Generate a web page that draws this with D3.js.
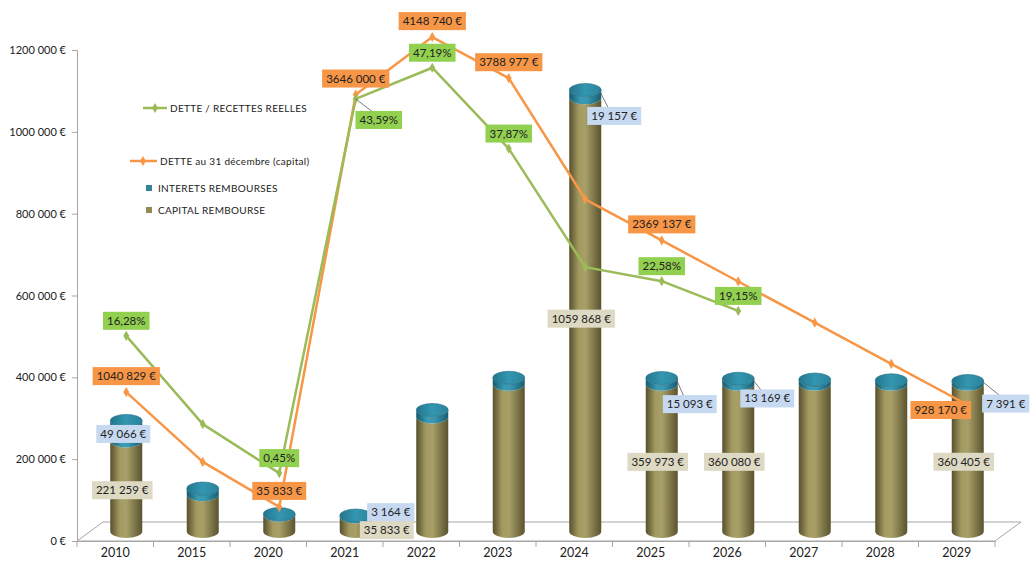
<!DOCTYPE html>
<html><head><meta charset="utf-8">
<script src="https://cdn.jsdelivr.net/npm/d3@7"></script>
<style>
html,body{margin:0;padding:0;background:#fff;}
svg{display:block;font-family:Lato, "Noto Sans", sans-serif;}
</style></head>
<body><svg id="chart" width="1032" height="563"></svg>
<script>
// ---------- DATA ----------
const categories = ["2010","2015","2020","2021","2022","2023","2024","2025","2026","2027","2028","2029"];
const capitalRembourse = [221259, 90000, 40000, 35833, 280000, 359763, 1059868, 359973, 360080, 360190, 360292, 360405];
const interetsRembourses = [49066, 15000, 2500, 3164, 17000, 16000, 19157, 15093, 13169, 11200, 9300, 7391];
const detteCapital = [1040829, 430000, 35833, 3646000, 4148740, 3788977, 2729110, 2369137, 2009057, 1648867, 1288575, 928170];
const detteRecettes = [16.28, 6.1, 0.45, 43.59, 47.19, 37.87, 24.2, 22.58, 19.15, null, null, null];
const yTicks = [0, 200000, 400000, 600000, 800000, 1000000, 1200000];
const yTickLabels = ["0 €", "200 000 €", "400 000 €", "600 000 €", "800 000 €", "1000 000 €", "1200 000 €"];
const detteLabels = ["1040 829 €", "", "35 833 €", "3646 000 €", "4148 740 €", "3788 977 €", "", "2369 137 €", "", "", "", "928 170 €"];
const ratioLabels = ["16,28%", "", "0,45%", "43,59%", "47,19%", "37,87%", "", "22,58%", "19,15%", "", "", ""];
const interetsLabels = ["49 066 €", "", "", "3 164 €", "", "", "19 157 €", "15 093 €", "13 169 €", "", "", "7 391 €"];
const capitalLabels = ["221 259 €", "", "", "35 833 €", "", "", "1059 868 €", "359 973 €", "360 080 €", "", "", "360 405 €"];
const legendNames = ["DETTE / RECETTES REELLES", "DETTE au 31 décembre (capital)", "INTERETS REMBOURSES", "CAPITAL REMBOURSE"];

// ---------- SETUP ----------
const svg = d3.select("#chart");
const C = {orange:"#F79646", green:"#9BBB59", teal:"#31859C", olive:"#948A54",
           lOrange:"#F79646", lGreen:"#92D050", lBlue:"#C6D9F1", lBeige:"#DDD9C3", axis:"#A6A6A6"};

const x = d3.scaleBand().domain(categories).range([77, 995]).padding(0);
const y = d3.scaleLinear().domain([0, 1200000]).range([541, 50]);
const yDebt = d3.scaleLinear().domain([0, 4500000]).range([511, -3]);
const yRatio = d3.scaleLinear().domain([0, 55]).range([477, 0]);
const DX = 11, DY = -9.5, DEPTH_X = 26, DEPTH_Y = -19;
const cx = c => x(c) + x.bandwidth() / 2 + DX;

const defs = svg.append("defs");
function hGrad(id, stops) {
  const g = defs.append("linearGradient").attr("id", id).attr("x1","0%").attr("x2","100%").attr("y1","0%").attr("y2","0%");
  stops.forEach(s => g.append("stop").attr("offset", s[0]).attr("stop-color", s[1]));
}
hGrad("gOlive", [["0%","#57502C"],["30%","#A39A62"],["50%","#A8A068"],["100%","#5A532F"]]);
hGrad("gTeal", [["0%","#175A6C"],["35%","#3A9BB3"],["55%","#3A98B0"],["100%","#185D70"]]);
hGrad("gTop", [["0%","#23768E"],["50%","#3496B0"],["100%","#2A839C"]]);

// ---------- FLOOR & AXES ----------
const x0 = x.range()[0], x1 = x.range()[1], yb = y(0);
svg.append("path")
  .attr("d", `M${x0},${yb} L${x1},${yb} L${x1+DEPTH_X},${yb+DEPTH_Y} L${x0+DEPTH_X},${yb+DEPTH_Y} Z`)
  .attr("fill", "#fff").attr("stroke", C.axis).attr("stroke-width", 1);

const yAxis = d3.axisLeft(y).tickValues(yTicks).tickFormat((d,i) => yTickLabels[i]).tickSize(5).tickPadding(6);
const gy = svg.append("g").attr("transform", `translate(${x0},0)`).call(yAxis);
gy.select(".domain").attr("stroke", C.axis);
gy.selectAll(".tick line").attr("stroke", C.axis);
gy.selectAll(".tick text").attr("font-size", 11).attr("fill", "#222").attr("font-family", "Lato");

const xAxis = d3.axisBottom(x).tickSize(0).tickPadding(7);
const gx = svg.append("g").attr("transform", `translate(0,${yb})`).call(xAxis);
gx.select(".domain").attr("stroke", C.axis);
gx.selectAll(".tick text").attr("font-size", 12.5).attr("fill", "#222").attr("font-family", "Lato").attr("dy", "0.71em");
categories.concat(["end"]).forEach((c, i) => {
  const xx = x0 + i * x.bandwidth();
  svg.append("line").attr("x1", xx).attr("x2", xx).attr("y1", yb).attr("y2", yb + 6).attr("stroke", C.axis);
});

// ---------- CYLINDERS ----------
const RX = 16, RY = 6.5;
function body(c, yTop, yBot) {
  return `M${c-RX},${yTop} L${c-RX},${yBot} A${RX},${RY} 0 0 0 ${c+RX},${yBot} L${c+RX},${yTop} A${RX},${RY} 0 0 1 ${c-RX},${yTop} Z`;
}
const gc = svg.append("g");
categories.forEach((cat, i) => {
  const c = cx(cat);
  const yBase = y(0) + DY;
  const yCap = y(capitalRembourse[i]) + DY;
  const yTot = y(capitalRembourse[i] + interetsRembourses[i]) + DY;
  gc.append("path").attr("d", body(c, yCap, yBase)).attr("fill", "url(#gOlive)");
  gc.append("path").attr("d", body(c, yTot, yCap)).attr("fill", "url(#gTeal)");
  gc.append("ellipse").attr("cx", c).attr("cy", yTot).attr("rx", RX).attr("ry", RY)
    .attr("fill", "url(#gTop)").attr("stroke", "#1E6A80").attr("stroke-width", 0.6);
});

// ---------- LINES ----------
const diamond = d3.symbol().type(d3.symbolDiamond).size(30);
const lineDebt = d3.line().x((d,i) => cx(categories[i])).y(d => yDebt(d));
svg.append("path").attr("d", lineDebt(detteCapital)).attr("fill", "none").attr("stroke", C.orange).attr("stroke-width", 2.5).attr("stroke-linejoin","round");
const lineRatio = d3.line().defined(d => d !== null).x((d,i) => cx(categories[i])).y(d => yRatio(d));
svg.append("path").attr("d", lineRatio(detteRecettes)).attr("fill", "none").attr("stroke", C.green).attr("stroke-width", 2.5).attr("stroke-linejoin","round");
detteCapital.forEach((d,i) => svg.append("path").attr("d", diamond).attr("fill", C.orange)
  .attr("transform", `translate(${cx(categories[i])},${yDebt(d)})`));
detteRecettes.forEach((d,i) => { if (d === null) return;
  svg.append("path").attr("d", diamond).attr("fill", C.green)
  .attr("transform", `translate(${cx(categories[i])},${yRatio(d)})`); });

// ---------- DATA LABELS ----------
const gl = svg.append("g");
function label(text, xc, yc, fill, leader) {
  if (leader) gl.append("line").attr("x1", leader[0]).attr("y1", leader[1]).attr("x2", xc - 6).attr("y2", yc - 8)
      .attr("stroke", "#595959").attr("stroke-width", 0.8);
  const g = gl.append("g");
  const t = g.append("text").attr("x", xc).attr("y", yc).attr("text-anchor", "middle").attr("dy", "0.35em")
    .attr("font-size", 11.5).attr("fill", "#222").text(text);
  const w = t.node().getComputedTextLength();
  g.insert("rect", "text").attr("x", xc - w/2 - 4).attr("y", yc - 9).attr("width", w + 8).attr("height", 18).attr("fill", fill);
  return w;
}
// debt labels (above point, except last)
detteLabels.forEach((t,i) => { if (!t) return;
  const px = cx(categories[i]), py = yDebt(detteCapital[i]);
  if (i === categories.length - 1) {
    const w = label(t, px - 27, py + 5, C.lOrange);
    gl.append("path").attr("d", `M${px-27+w/2+4},${py} L${px+3},${py} L${px-27+w/2+4},${py+10} Z`).attr("fill", C.lOrange);
  } else label(t, px, py - 16, C.lOrange);
});
// ratio labels
ratioLabels.forEach((t,i) => { if (!t) return;
  const px = cx(categories[i]), py = yRatio(detteRecettes[i]);
  if (i === 3) label(t, px + 23, py + 21, C.lGreen, [px, py]);
  else label(t, px, py - 15, C.lGreen);
});
// interest labels
const intOffsets = {0:[-3,3,false], 3:[35,-4,false], 6:[29,22,true], 7:[28,23,true], 8:[29,17,true], 11:[38,21,true]};
interetsLabels.forEach((t,i) => { if (!t) return;
  const px = cx(categories[i]);
  const yCap = y(capitalRembourse[i]) + DY, yTot = y(capitalRembourse[i] + interetsRembourses[i]) + DY;
  const mid = (yCap + yTot) / 2;
  const o = intOffsets[i];
  label(t, px + o[0], mid + o[1], C.lBlue, o[2] ? [px + RX - 2, yTot] : null);
});
// capital labels
capitalLabels.forEach((t,i) => { if (!t) return;
  const px = cx(categories[i]);
  const mid = (y(0) + y(capitalRembourse[i])) / 2 + DY;
  if (i === 3) label(t, px + 31, mid + 6, C.lBeige);
  else label(t, px - 4, mid + 4, C.lBeige);
});

// ---------- LEGEND ----------
const lg = svg.append("g").attr("font-size", 10).attr("fill", "#222").attr("letter-spacing", "0.3px");
lg.append("line").attr("x1", 143).attr("x2", 167).attr("y1", 108).attr("y2", 108).attr("stroke", C.green).attr("stroke-width", 2.5);
lg.append("path").attr("d", diamond).attr("fill", C.green).attr("transform", "translate(155,108)");
lg.append("text").attr("x", 170).attr("y", 108).attr("dy", "0.35em").text(legendNames[0]);
lg.append("line").attr("x1", 130).attr("x2", 157).attr("y1", 161).attr("y2", 161).attr("stroke", C.orange).attr("stroke-width", 2.5);
lg.append("path").attr("d", diamond).attr("fill", C.orange).attr("transform", "translate(143,161)");
lg.append("text").attr("x", 160).attr("y", 161).attr("dy", "0.35em").text(legendNames[1]);
lg.append("rect").attr("x", 146).attr("y", 185).attr("width", 6).attr("height", 6).attr("fill", C.teal);
lg.append("text").attr("x", 158).attr("y", 188).attr("dy", "0.35em").text(legendNames[2]);
lg.append("rect").attr("x", 146).attr("y", 207).attr("width", 6).attr("height", 6).attr("fill", C.olive);
lg.append("text").attr("x", 158).attr("y", 210).attr("dy", "0.35em").text(legendNames[3]);
</script></body></html>
